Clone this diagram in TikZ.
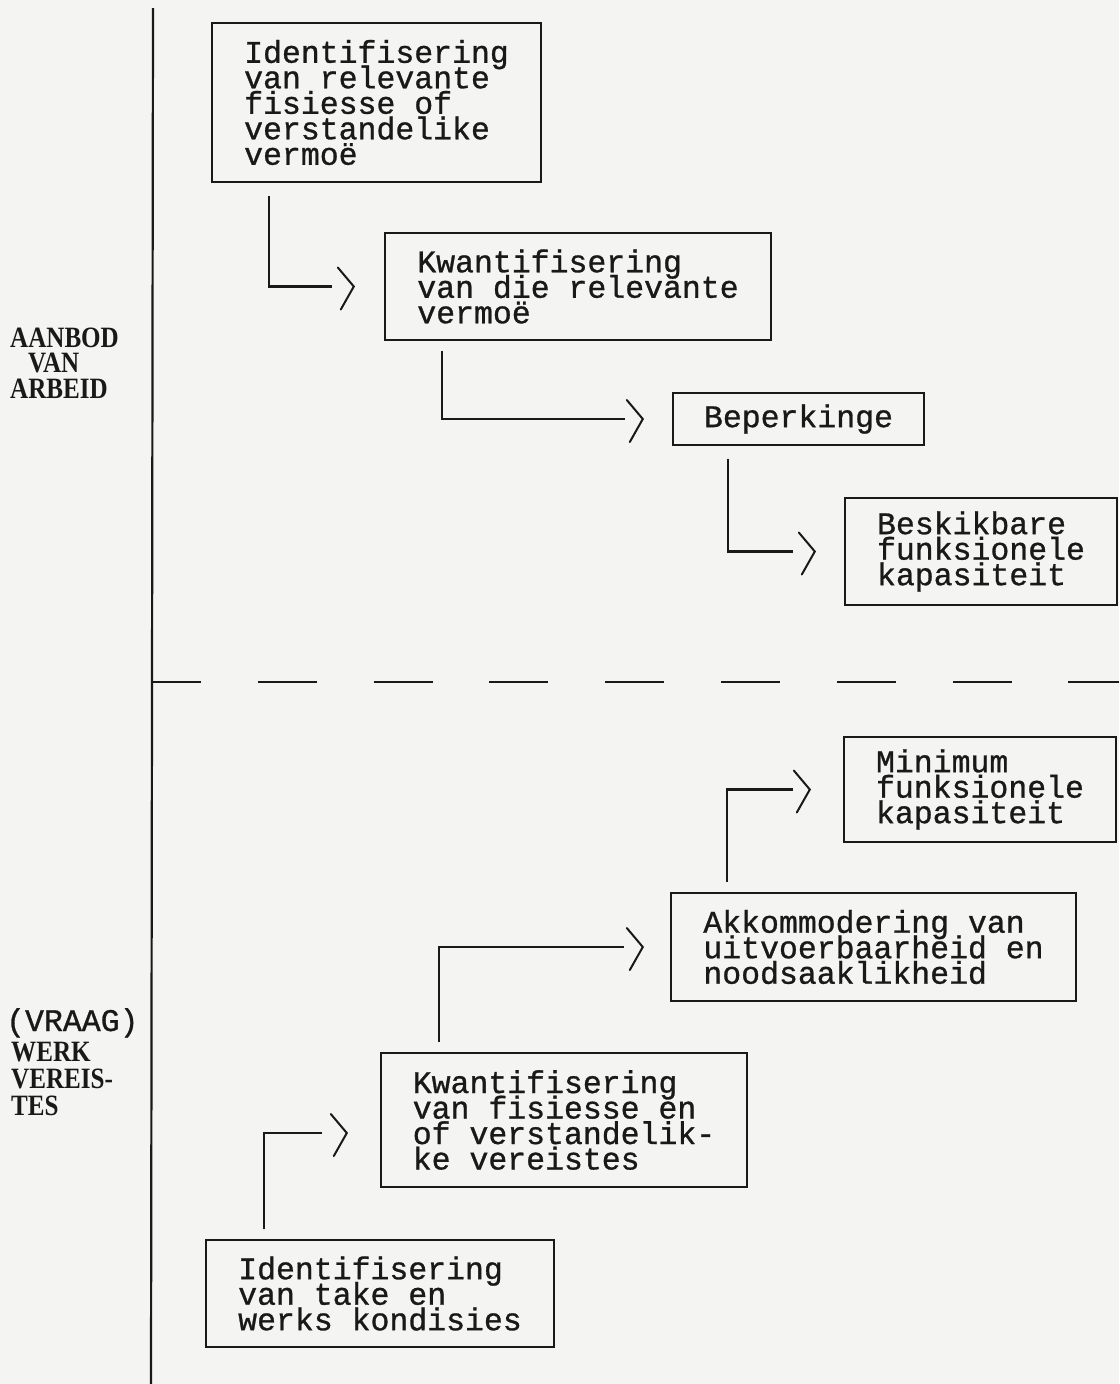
\documentclass[tikz,border=0pt]{standalone}
\usepackage{fontspec}
\usetikzlibrary{calc}
\newfontfamily\monof[FakeBold=0.9]{Liberation Mono}
\newfontfamily\labf[FakeStretch=0.85]{Liberation Serif}
\definecolor{ink}{RGB}{25,25,25}
\definecolor{paper}{RGB}{244,244,243}
\newcommand\boxfont{\monof\fontsize{31.5pt}{25.5pt}\selectfont\lineskiplimit=-40pt\relax}
\newcommand\labfont{\labf\bfseries\fontsize{29.5pt}{26pt}\selectfont}
\newcommand\chevron[1]{\draw[chev] ($(#1)+(-16,-19)$) -- (#1) -- ($(#1)+(-13,23)$);}
\begin{document}
\begin{tikzpicture}[x=1pt,y=-1pt,
  box/.style={draw=ink, line width=2.4pt, inner xsep=0pt, inner ysep=0pt, align=left, text=ink, font=\boxfont},
  link/.style={draw=ink, line width=2.2pt},
  chev/.style={draw=ink, line width=2pt, line join=miter, line cap=round},
  lab/.style={font=\labfont, text=ink, inner sep=0pt, anchor=base west}]
\fill[paper] (0,0) rectangle (1119,1384);
\useasboundingbox (0,0) rectangle (1119,1384);

% axis and divider
\coordinate (vtop) at (153,8);
\coordinate (vbot) at (151,1384);
\draw[link] (vtop) -- (vbot);
\coordinate (dl) at (152,682);
\coordinate (dr) at (1119,682);
\draw[link, dash pattern=on 59pt off 56.8pt, dash phase=10pt] (dl) -- (dr);

% side labels
\node[lab] (aanbod) at (10,347) {AANBOD};
\node[lab] (van) at (28,372) {VAN};
\node[lab] (arbeid) at (10,398) {ARBEID};
\node[lab, font=\boxfont] (vraag) at (6,1031) {(VRAAG)};
\node[lab] (werk) at (11,1061) {WERK};
\node[lab] (vereis) at (11,1088) {VEREIS-};
\node[lab] (tes) at (11,1115) {TES};

% boxes
\node[box, minimum width=329pt, minimum height=159pt] (b1) at (376.5,102.5)
  {Identifisering\\van relevante\\fisiesse of\\verstandelike\\vermoë};
\node[box, minimum width=386pt, minimum height=107pt] (b2) at (578,286.5)
  {Kwantifisering\\van die relevante\\vermoë};
\node[box, minimum width=251pt, minimum height=52pt] (b3) at (798.5,419)
  {Beperkinge};
\node[box, minimum width=272pt, minimum height=107pt] (b4) at (981,551.5)
  {Beskikbare\\funksionele\\kapasiteit};
\node[box, minimum width=272pt, minimum height=105pt] (b5) at (980,789.5)
  {Minimum\\funksionele\\kapasiteit};
\node[box, minimum width=405pt, minimum height=108pt] (b6) at (873.5,947)
  {Akkommodering van\\uitvoerbaarheid en\\noodsaaklikheid};
\node[box, minimum width=366pt, minimum height=134pt] (b7) at (564,1120)
  {Kwantifisering\\van fisiesse en\\of verstandelik-\\ke vereistes};
\node[box, minimum width=348pt, minimum height=107pt] (b8) at (380,1293.5)
  {Identifisering\\van take en\\werks kondisies};

% connectors
\coordinate (t1) at ([xshift=-30pt]b2.west);
\draw[link] ([shift={(58,13)}]b1.south west) |- ([xshift=-22pt]t1);
\chevron{t1}

\coordinate (t2) at ([xshift=-29pt]b3.west);
\draw[link] ([shift={(58,10)}]b2.south west) |- ([xshift=-18pt]t2);
\chevron{t2}

\coordinate (t3) at ([xshift=-29pt]b4.west);
\draw[link] ([shift={(56,13)}]b3.south west) |- ([xshift=-22pt]t3);
\chevron{t3}

\coordinate (t4) at ([xshift=-33pt]b5.west);
\draw[link] ([shift={(57,-10)}]b6.north west) |- ([xshift=-17pt]t4);
\chevron{t4}

\coordinate (t5) at ([xshift=-27pt]b6.west);
\draw[link] ([shift={(59,-10)}]b7.north west) |- ([xshift=-19pt]t5);
\chevron{t5}

\coordinate (t6) at ([shift={(-33,13)}]b7.west);
\draw[link] ([shift={(59,-10)}]b8.north west) |- ([xshift=-25pt]t6);
\chevron{t6}
\end{tikzpicture}
\end{document}
